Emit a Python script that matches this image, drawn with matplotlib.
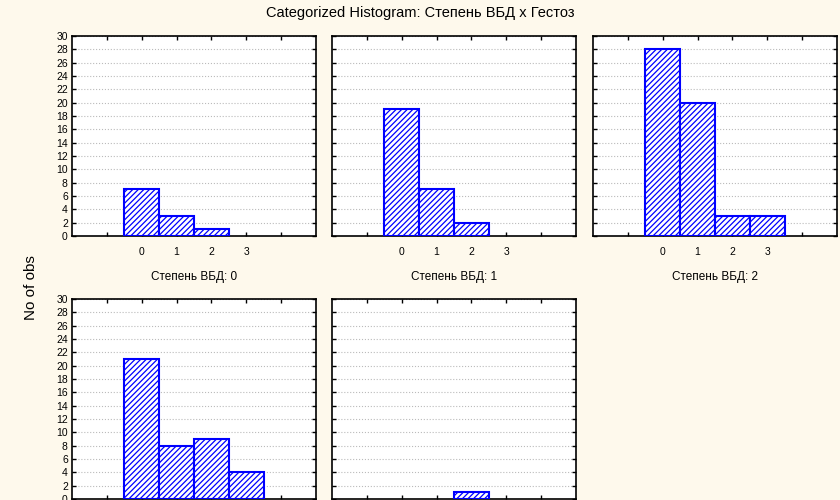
import matplotlib.pyplot as plt
import numpy as np

plt.rcParams['font.family'] = ['Liberation Sans', 'DejaVu Sans']
plt.rcParams['hatch.linewidth'] = 0.9

# Гестоз (0..3) для каждой степени ВБД
gestoz = [0, 1, 2, 3]
vbd0 = [7, 3, 1, 0]
vbd1 = [19, 7, 2, 0]
vbd2 = [28, 20, 3, 3]
vbd3 = [21, 8, 9, 4]
vbd4 = [0, 0, 1, 0]
groups = ['0', '1', '2', '3', '4']
counts = [vbd0, vbd1, vbd2, vbd3, vbd4]

bg = '#FEF9EC'
fig = plt.figure(figsize=(8.4, 5), dpi=100, facecolor=bg)

W, H = 840, 500
lefts = [72, 332, 593]
tops = [36, 299]
pw, ph = 244, 200

for i, (g, c) in enumerate(zip(groups, counts)):
    row, col = divmod(i, 3)
    l = lefts[col]
    t = tops[row]
    ax = fig.add_axes([l / W, 1 - (t + ph) / H, pw / W, ph / H])
    ax.set_facecolor('white')
    # пустые столбцы не рисуем
    xs = [x for x, v in zip(gestoz, c) if v > 0]
    vs = [v for v in c if v > 0]
    ax.bar(xs, vs, width=1, color='white', edgecolor='blue',
           linewidth=1.5, hatch='//////', zorder=3)
    ax.set_xlim(-2, 5)
    ax.set_ylim(0, 30)
    ax.set_yticks(np.arange(0, 31, 2))
    ax.set_xticks(range(-1, 5))
    ax.grid(axis='y', color='#BBBBBB', linestyle=':', linewidth=0.8, zorder=0)
    ax.tick_params(direction='in', length=3, width=1, top=True, right=True,
                   labelsize=7.5, pad=3)
    ax.tick_params(axis='x', pad=8)
    if col != 0:
        ax.set_yticklabels([])
    if row == 0:
        ax.set_xticklabels(['', '0', '1', '2', '3', ''])
        ax.text(0.5, -0.205, f'Степень ВБД: {g}', transform=ax.transAxes,
                ha='center', va='center', fontsize=8.5)
    else:
        ax.set_xticklabels([])  # нижний ряд обрезан краем картинки
    for s in ax.spines.values():
        s.set_linewidth(1.2)

fig.text(0.5, 1 - 13 / H, 'Categorized Histogram: Степень ВБД x Гестоз',
         ha='center', va='center', fontsize=10.5)
fig.text(31 / W, 1 - 288 / H, 'No of obs', rotation=90,
         ha='center', va='center', fontsize=11)

fig.savefig('out.png', dpi=100, facecolor=bg)
